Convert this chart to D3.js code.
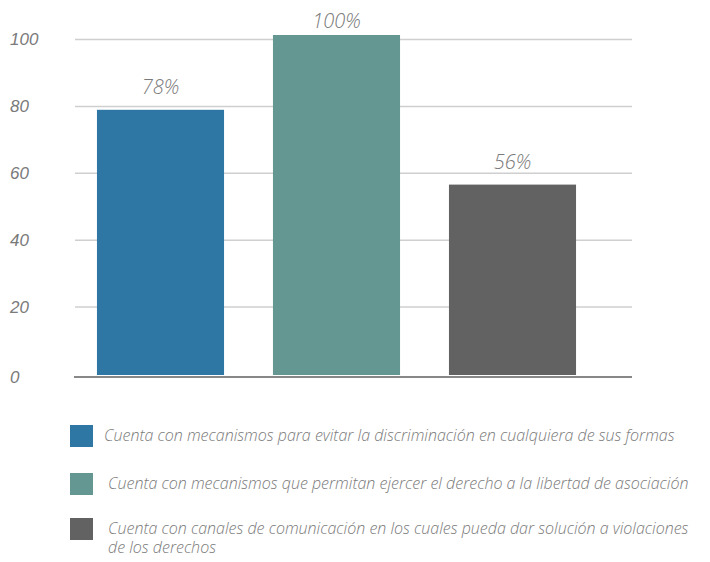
<!DOCTYPE html>
<html>
<head>
<meta charset="utf-8">
<script src="https://cdn.jsdelivr.net/npm/d3@7"></script>
<style>
  body { margin: 0; background: #fff; }
  svg { font-family: "Open Sans", sans-serif; }
</style>
</head>
<body>
<div id="canvas"></div>
<script>
// data
var categories = [
  'Cuenta con mecanismos para evitar la discriminación en cualquiera de sus formas',
  'Cuenta con mecanismos que permitan ejercer el derecho a la libertad de asociación',
  'Cuenta con canales de comunicación en los cuales pueda dar solución a violaciones de los derechos'
];
var values = [78, 100, 56];
var colors = ['#2e76a4', '#659792', '#626262'];
var tickValues = [0, 20, 40, 60, 80, 100];

var W = 710, H = 562;

var svg = d3.select('#canvas')
  .append('svg')
  .attr('width', W)
  .attr('height', H);

var scaleX = d3.scaleBand()
  .domain(d3.range(values.length))
  .range([72.5, 600.5])
  .paddingInner(0.278)
  .paddingOuter(0.139);

// gridline scale and bar scale differ a touch in the original
var scaleY = d3.scaleLinear().domain([0, 100]).range([373.5, 39]);
var barY = d3.scaleLinear().domain([0, 100]).range([375, 35]);

var axisY = d3.axisLeft(scaleY)
  .tickValues(tickValues)
  .tickSize(557)
  .tickFormat(d3.format('d'));

var gAxis = svg.append('g')
  .attr('transform', 'translate(632,0)')
  .call(axisY);

gAxis.select('.domain').remove();
gAxis.selectAll('.tick line')
  .attr('stroke', '#cfcfcf')
  .attr('stroke-width', 1.5)
  .style('display', function(d) { return d === 0 ? 'none' : null; });
gAxis.selectAll('.tick text')
  .attr('x', -622)
  .attr('text-anchor', 'start')
  .attr('dy', '0.35em')
  .attr('font-size', 17)
  .attr('font-style', 'italic')
  .attr('font-weight', 300)
  .attr('fill', '#7a7a7a')
  .attr('transform', function(d) { return d === 0 ? 'translate(0,3)' : null; });

svg.selectAll('rect.bar')
  .data(values)
  .enter()
  .append('rect')
  .attr('class', 'bar')
  .attr('x', function(d, i) { return scaleX(i); })
  .attr('y', function(d) { return barY(d); })
  .attr('width', scaleX.bandwidth())
  .attr('height', function(d) { return barY(0) - barY(d); })
  .attr('fill', function(d, i) { return colors[i]; });

// baseline
svg.append('line')
  .attr('x1', 74).attr('x2', 632)
  .attr('y1', barY(0) + 2).attr('y2', barY(0) + 2)
  .attr('stroke', '#888')
  .attr('stroke-width', 2);

svg.selectAll('text.val')
  .data(values)
  .enter()
  .append('text')
  .attr('class', 'val')
  .attr('x', function(d, i) { return scaleX(i) + scaleX.bandwidth() / 2; })
  .attr('y', function(d) { return Math.max(barY(d) - 16, 28); })
  .attr('text-anchor', 'middle')
  .attr('font-size', 20)
  .attr('font-style', 'italic')
  .attr('font-weight', 300)
  .attr('fill', '#7a7a7a')
  .text(function(d) { return d + '%'; });

// legend
var legendTop = [425, 473, 518];
var legendTextX = [104, 108, 108];
var maxWidth = 594;

var leg = svg.selectAll('g.leg')
  .data(categories)
  .enter()
  .append('g')
  .attr('class', 'leg');

leg.append('rect')
  .attr('x', 70)
  .attr('y', function(d, i) { return legendTop[i]; })
  .attr('width', 23)
  .attr('height', 22)
  .attr('fill', function(d, i) { return colors[i]; });

leg.each(function(d, i) {
  var t = d3.select(this).append('text')
    .attr('font-size', 16)
    .attr('font-style', 'italic')
    .attr('font-weight', 300)
    .attr('fill', '#7a7a7a');
  var words = d.split(' '), line = [], j = 0;
  var tspan = t.append('tspan').attr('x', legendTextX[i]).attr('y', legendTop[i] + 16);
  words.forEach(function(w) {
    line.push(w);
    tspan.text(line.join(' '));
    if (tspan.node().getComputedTextLength() > maxWidth && line.length > 1) {
      line.pop();
      tspan.text(line.join(' '));
      line = [w];
      j++;
      tspan = t.append('tspan')
        .attr('x', legendTextX[i])
        .attr('y', legendTop[i] + 16 + j * 19)
        .text(w);
    }
  });
});
</script>
</body>
</html>
